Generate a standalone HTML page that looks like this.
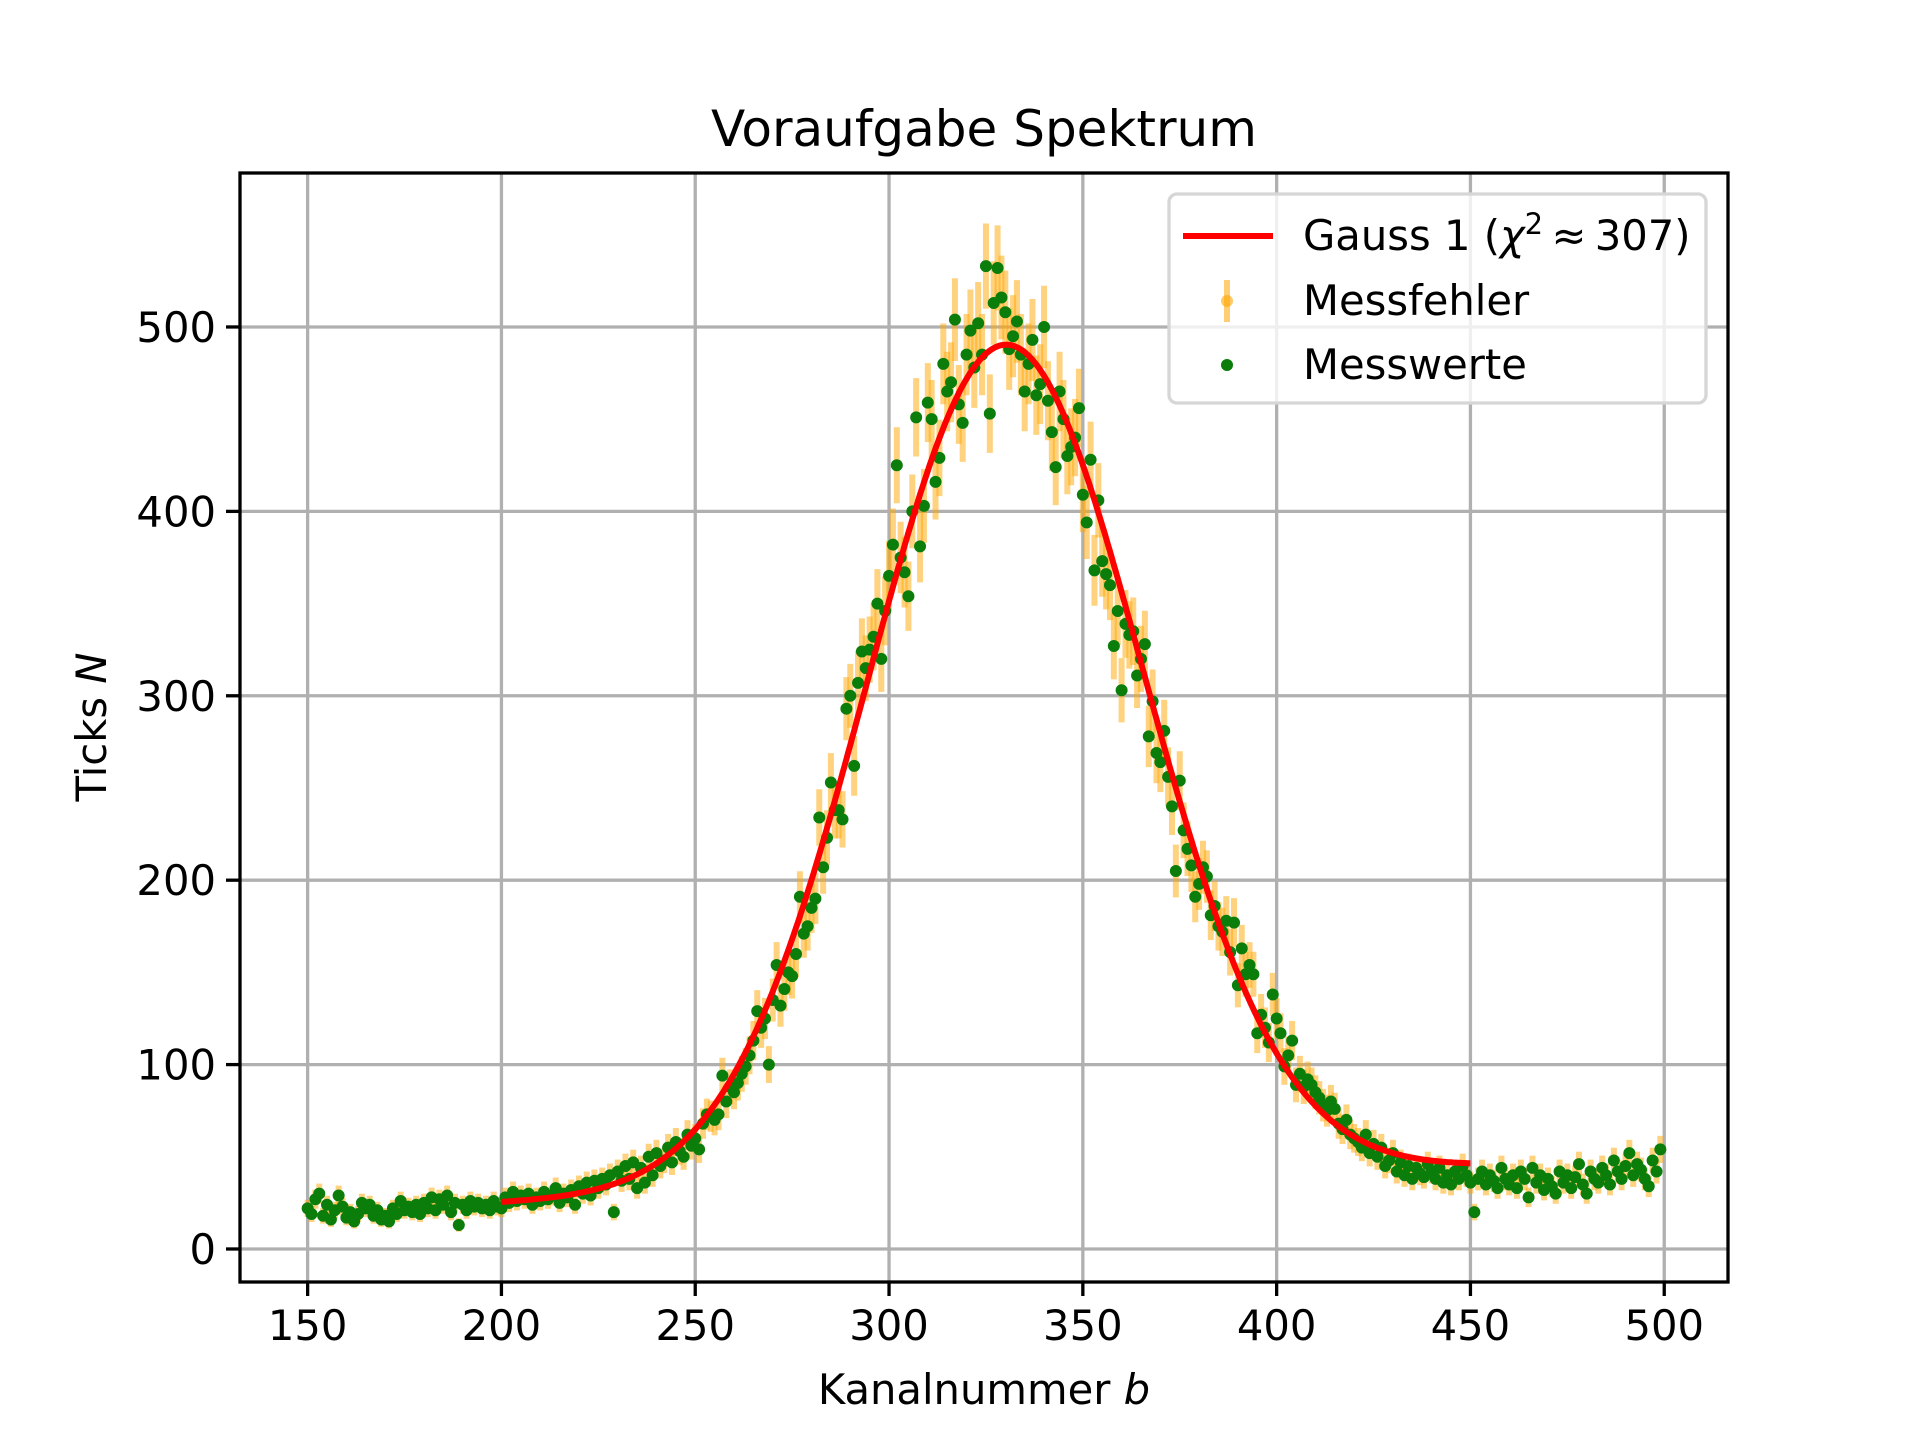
<!DOCTYPE html>
<html><head><meta charset="utf-8"><style>
html,body{margin:0;padding:0;background:#fff}
svg text{font-family:"DejaVu Sans","Liberation Sans",sans-serif;fill:#000}
</style></head><body>
<svg id="chart" width="1920" height="1440" viewBox="0 0 1920 1440" xmlns="http://www.w3.org/2000/svg">
<rect width="1920" height="1440" fill="#fff"/>
<g id="grid"></g>
<g id="errs"></g>
<g id="pts"></g>
<path id="fit" fill="none" stroke="#ff0000" stroke-width="6"/>
<rect x="240" y="173" width="1488" height="1109" fill="none" stroke="#000" stroke-width="3.3"/>
<g id="ticks"></g>
<text x="984" y="146" font-size="50" text-anchor="middle">Voraufgabe Spektrum</text>
<text x="984" y="1404" font-size="41.7" text-anchor="middle">Kanalnummer <tspan font-style="italic">b</tspan></text>
<text transform="translate(106,727) rotate(-90)" font-size="41.7" text-anchor="middle">Ticks <tspan font-style="italic">N</tspan></text>
<g>
<rect x="1169" y="194" width="537" height="209" rx="8" fill="#fff" fill-opacity="0.8" stroke="#d6d6d6" stroke-width="3.3"/>
<line x1="1183" y1="236" x2="1273" y2="236" stroke="#ff0000" stroke-width="6"/>
<text x="1303" y="250" font-size="41.7">Gauss 1 (<tspan font-style="italic">χ</tspan><tspan font-size="29" dy="-16">2</tspan><tspan dy="16">&#8201;≈&#8201;307)</tspan></text>
<line x1="1227" y1="280" x2="1227" y2="322" stroke="#ffa500" stroke-opacity="0.55" stroke-width="6"/>
<circle cx="1227" cy="301" r="6" fill="#ffa500" fill-opacity="0.6"/>
<text x="1303" y="315" font-size="41.7">Messfehler</text>
<circle cx="1227" cy="365" r="6" fill="#0a7d0a"/>
<text x="1303" y="379" font-size="41.7">Messwerte</text>
</g>
</svg>
<script>
const channelStart = 150;
const counts = [
22,19,27,30,18,24,16,21,29,23,
17,20,15,19,25,22,24,18,21,16,
18,15,22,19,26,21,23,20,24,19,
25,22,28,21,27,24,29,20,25,13,
24,21,26,23,25,22,24,21,26,23,
22,28,25,31,26,29,27,30,24,28,
26,31,27,29,33,25,30,28,32,24,
34,30,36,29,37,33,38,35,40,20,
42,37,45,38,47,33,44,36,50,40,
52,45,48,55,47,58,53,50,62,56,
60,54,68,73,72,70,73,94,80,88,
85,90,95,99,105,113,129,120,125,100,
135,154,132,141,150,148,160,191,171,175,
185,190,234,207,223,253,238,238,233,293,
300,262,307,324,315,325,332,350,320,346,
365,382,425,375,367,354,400,451,381,403,
459,450,416,429,480,465,470,504,458,448,
485,498,478,502,485,533,453,513,532,516,
508,488,495,503,485,465,480,493,463,469,
500,460,443,424,465,450,430,435,440,456,
409,394,428,368,406,373,366,360,327,346,
303,339,333,335,311,320,328,278,297,269,
264,281,256,240,205,254,227,217,208,191,
198,207,202,181,186,175,172,178,161,177,
143,163,149,154,149,117,127,120,112,138,
125,117,99,105,113,89,95,88,92,89,
85,82,78,75,80,76,68,65,70,62,
60,58,55,62,52,57,50,55,45,48,
52,42,47,40,45,38,44,41,39,46,
42,38,44,36,40,35,42,38,45,40,
36,20,38,42,35,40,37,33,44,38,
35,40,33,42,38,28,44,36,40,32,
38,34,30,42,36,40,33,39,46,35,
30,42,38,36,44,40,35,48,42,38,
45,52,40,46,43,38,34,48,42,54];
const fitParams = [455, 330, 35.5];    // amplitude, mean, sigma
const fitBackground = [25, 45];        // background at fitRange ends
const fitRange = [200, 450];
const xTicks = [150,200,250,300,350,400,450,500];
const yTicks = [0,100,200,300,400,500];

const X0=240,X1=1728,Y0=173,Y1=1282;
const xmin=132.55,xmax=516.45,ymin=-17.9,ymax=583.5;
const sx=v=>X0+(v-xmin)/(xmax-xmin)*(X1-X0);
const sy=v=>Y1-(v-ymin)/(ymax-ymin)*(Y1-Y0);
const NS='http://www.w3.org/2000/svg';
function mk(tag,attrs,parent){const e=document.createElementNS(NS,tag);for(const k in attrs)e.setAttribute(k,attrs[k]);parent.appendChild(e);return e;}
const grid=document.getElementById('grid'),ticks=document.getElementById('ticks');
xTicks.forEach(t=>{const x=sx(t);
 const g=mk('line',{x1:x,x2:x,y1:Y0,y2:Y1,stroke:'#b0b0b0','stroke-width':3.3},grid);
 
 
 const tk=mk('line',{x1:x,x2:x,y1:Y1,y2:Y1+14,stroke:'#000','stroke-width':3.3},ticks);
 
 
 const lb=mk('text',{x:x,y:Y1+58,'font-size':41.7,'text-anchor':'middle'},ticks);lb.textContent=t;
 
 
});
yTicks.forEach(t=>{const y=sy(t);
 const g=mk('line',{x1:X0,x2:X1,y1:y,y2:y,stroke:'#b0b0b0','stroke-width':3.3},grid);
 
 
 const tk=mk('line',{x1:X0-14,x2:X0,y1:y,y2:y,stroke:'#000','stroke-width':3.3},ticks);
 
 
 const lb=mk('text',{x:X0-24,y:y+15,'font-size':41.7,'text-anchor':'end'},ticks);lb.textContent=t;
 
 
});
const errs=document.getElementById('errs'),pts=document.getElementById('pts');
counts.forEach((n,i)=>{const c=channelStart+i,x=sx(c),e=Math.sqrt(n);
 const l=mk('line',{x1:x,x2:x,y1:sy(n-e),y2:sy(n+e),stroke:'#ffa500','stroke-opacity':0.5,'stroke-width':6},errs);
 
 
});
counts.forEach((n,i)=>{const c=channelStart+i;
 const p=mk('circle',{cx:sx(c),cy:sy(n),r:6,fill:'#0a7d0a'},pts);
 
 
});
let d='';
for(let c=fitRange[0];c<=fitRange[1];c+=0.5){
 const bg=fitBackground[0]+(fitBackground[1]-fitBackground[0])*(c-fitRange[0])/(fitRange[1]-fitRange[0]);
 const v=bg+fitParams[0]*Math.exp(-Math.pow(c-fitParams[1],2)/(2*fitParams[2]*fitParams[2]));
 d+=(d?'L':'M')+sx(c).toFixed(1)+','+sy(v).toFixed(1);
}
document.getElementById('fit').setAttribute('d',d);
</script>
</body></html>
